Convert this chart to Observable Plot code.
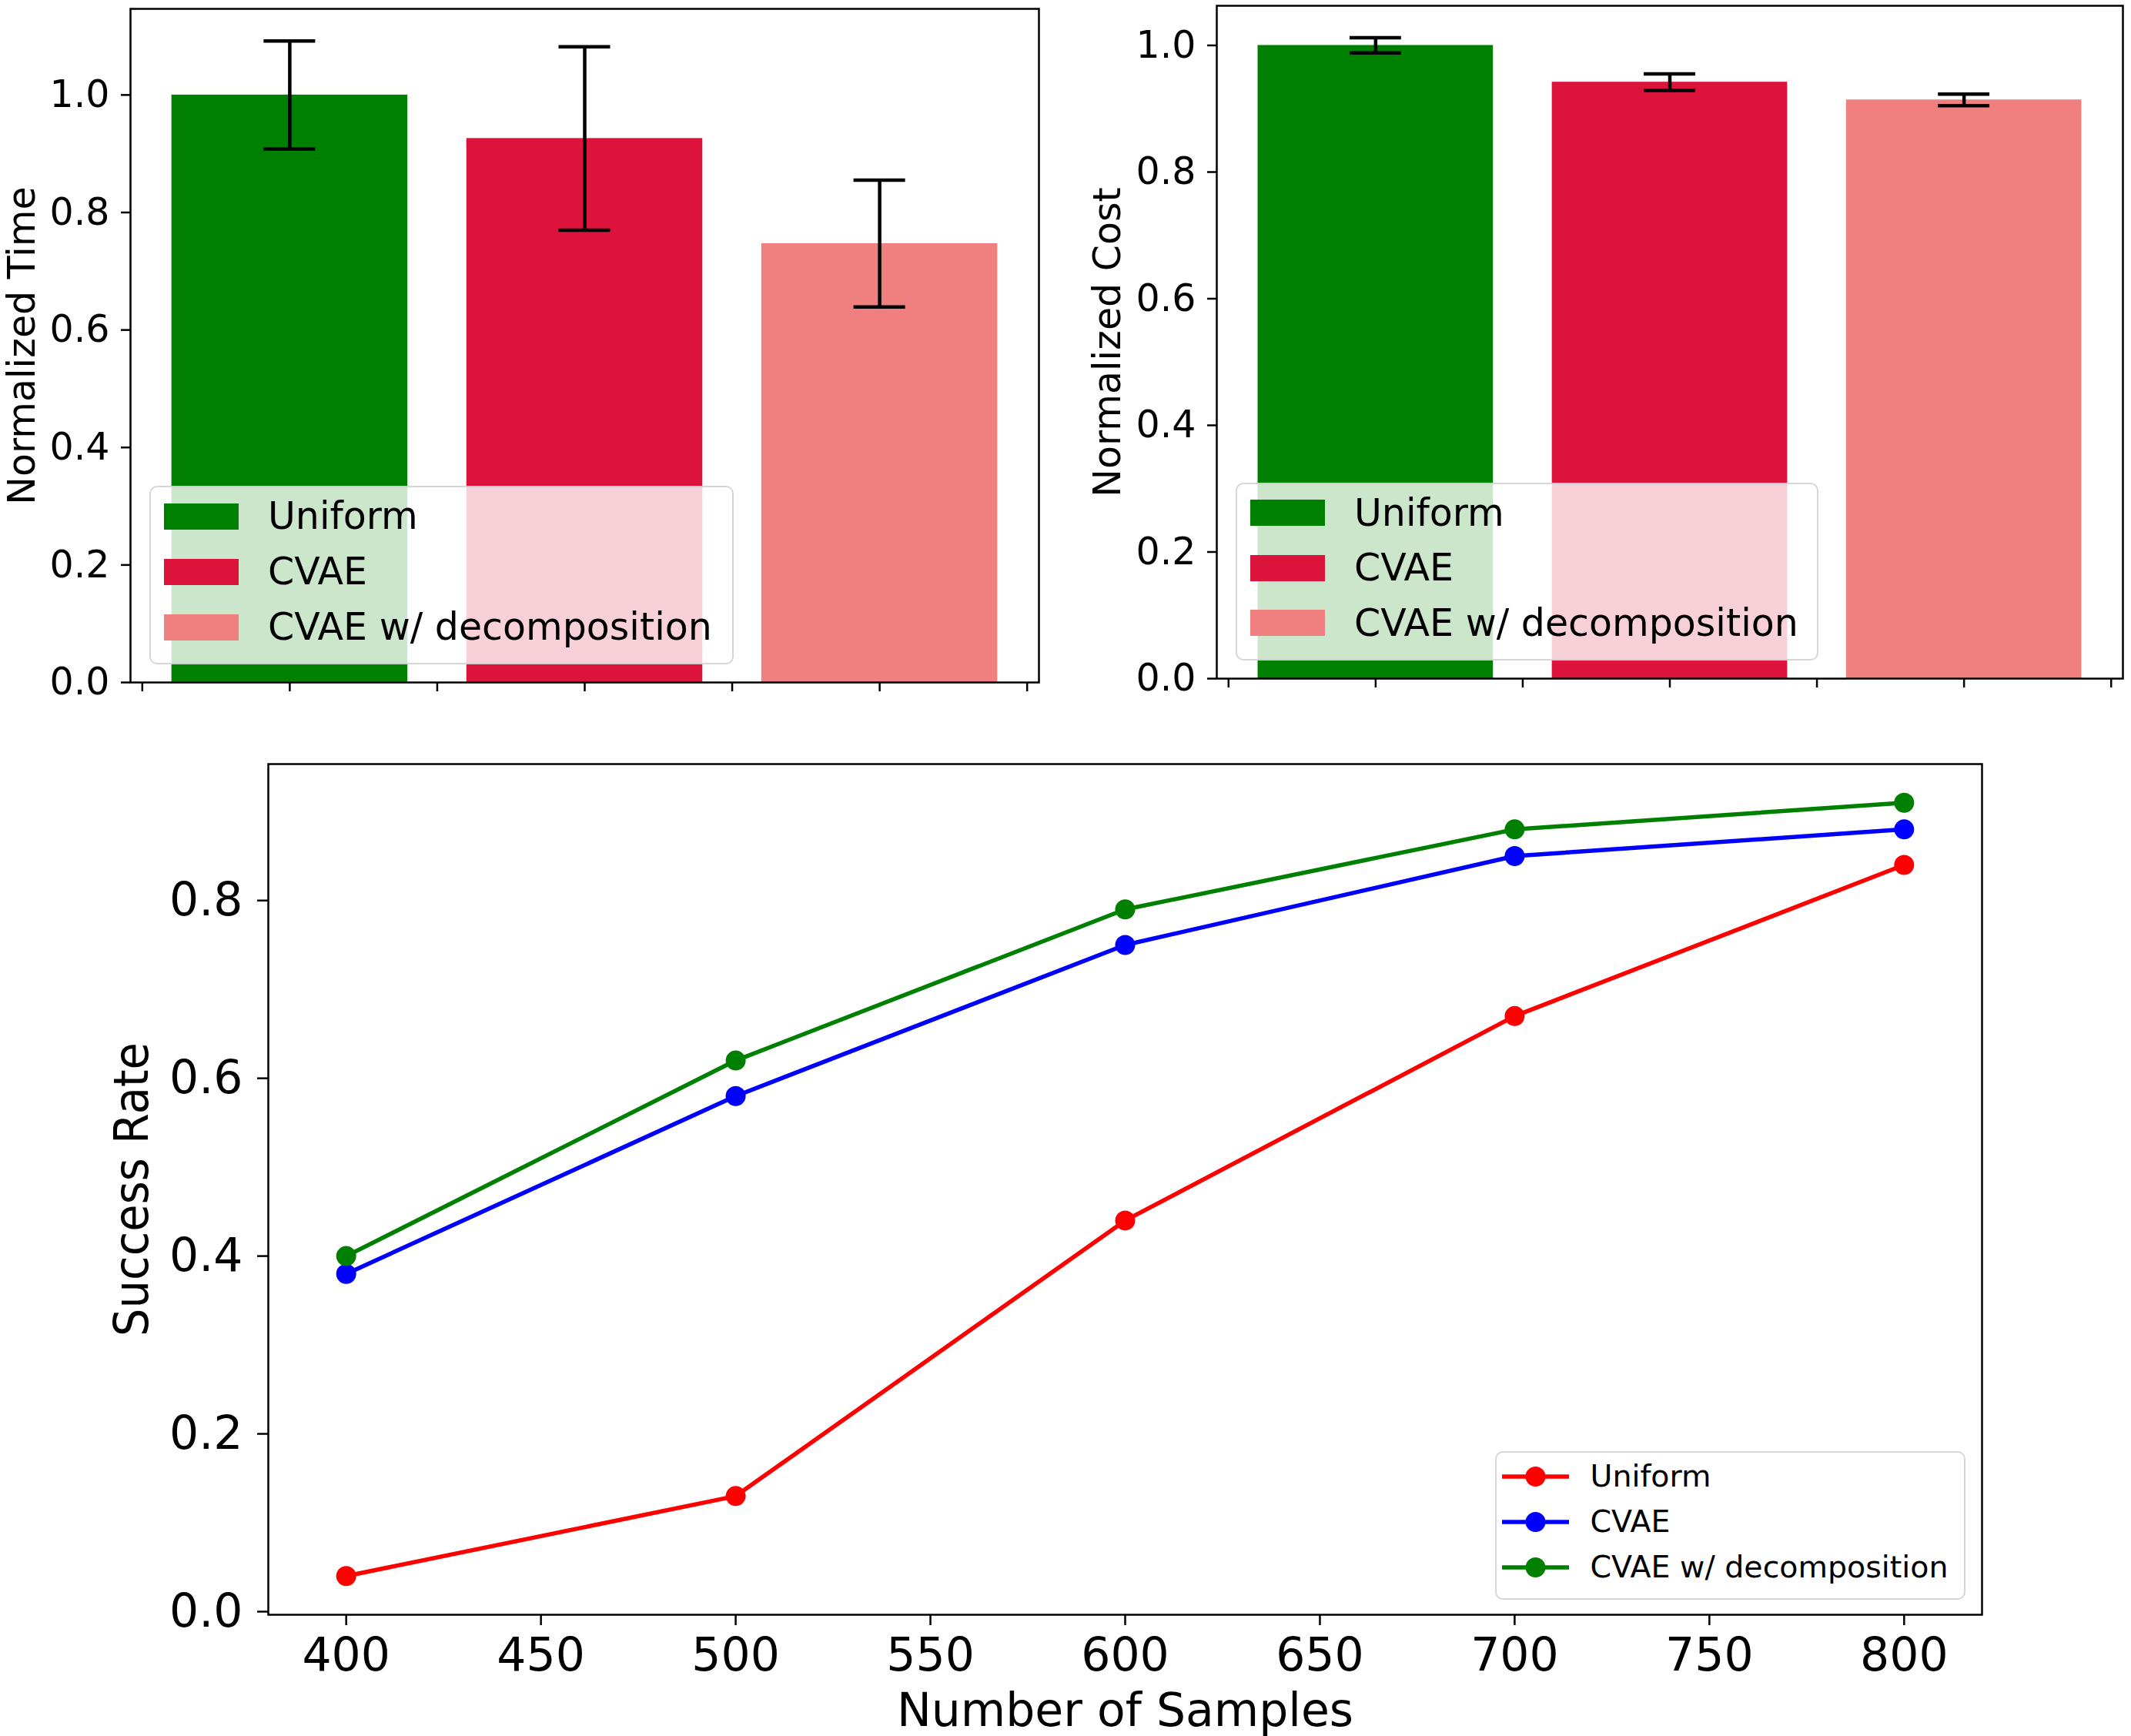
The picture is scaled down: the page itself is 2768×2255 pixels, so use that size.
<!DOCTYPE html>
<html><head><meta charset="utf-8">
<script src="https://cdn.jsdelivr.net/npm/d3@7"></script>
<script src="https://cdn.jsdelivr.net/npm/@observablehq/plot@0.6"></script>
<style>
html,body{margin:0;padding:0;background:#fff;}
#root{position:relative;width:2768px;height:2255px;font-family:"DejaVu Sans";color:#000;overflow:hidden;}
.panel{position:absolute;}
.legend{position:absolute;box-sizing:border-box;background:rgba(255,255,255,0.8);border:2.5px solid rgba(204,204,204,0.8);border-radius:10px;}
.row{display:flex;align-items:center;white-space:nowrap;line-height:1;}
</style></head><body><div id="root"></div>
<script>
// ---- data ----
const methods = ["Uniform", "CVAE", "CVAE w/ decomposition"];
const barColors = ["#008000", "#DC143C", "#F08080"];
const timeMean = [1.0, 0.926, 0.747];
const timeErr = [0.092, 0.156, 0.108];
const costMean = [1.0, 0.942, 0.914];
const costErr = [0.012, 0.013, 0.009];
const barYTicks = [0, 0.2, 0.4, 0.6, 0.8, 1.0];

const samples = [400, 500, 600, 700, 800];
const successUniform = [0.04, 0.13, 0.44, 0.67, 0.84];
const successCVAE = [0.38, 0.58, 0.75, 0.85, 0.88];
const successDecomp = [0.40, 0.62, 0.79, 0.88, 0.91];
const lineColors = ["#FF0000", "#0000FF", "#008000"];
const lineYTicks = [0, 0.2, 0.4, 0.6, 0.8];
const lineXTicks = [400, 450, 500, 550, 600, 650, 700, 750, 800];

const root = document.getElementById("root");
const fmt1 = d3.format(".1f");

function barPanel(means, errs, yLabel, left, margins, labelDx) {
  const data = methods.map((m, i) => ({m, i, mean: means[i], err: errs[i], color: barColors[i]}));
  const lo = -0.4, hi = methods.length - 1 + 0.4, pad = 0.05 * (hi - lo);
  const yMax = d3.max(data, d => d.mean + d.err) * 1.05;
  const cap = 0.0875;
  const svg = Plot.plot({
    width: 1384, height: 960,
    ...margins,
    style: {fontFamily: "DejaVu Sans", fontSize: "49px", background: "transparent", overflow: "visible"},
    x: {domain: [lo - pad, hi + pad]},
    y: {domain: [0, yMax]},
    color: {type: "identity"},
    marks: [
      Plot.rectY(data, {x1: d => d.i - 0.4, x2: d => d.i + 0.4, y: "mean", fill: "color"}),
      Plot.ruleX(data, {x: "i", y1: d => d.mean - d.err, y2: d => d.mean + d.err, stroke: "black", strokeWidth: 4.5}),
      Plot.ruleY(data, {y: d => d.mean + d.err, x1: d => d.i - cap, x2: d => d.i + cap, stroke: "black", strokeWidth: 4.5}),
      Plot.ruleY(data, {y: d => d.mean - d.err, x1: d => d.i - cap, x2: d => d.i + cap, stroke: "black", strokeWidth: 4.5}),
      Plot.axisY({ticks: barYTicks, tickFormat: fmt1, tickSize: 12, tickPadding: 15, fontSize: 49, strokeWidth: 2.5, label: null}),
      Plot.axisX({ticks: d3.range(-0.5, methods.length - 0.49, 0.5), tickFormat: () => "", tickSize: 12, strokeWidth: 2.5, label: null}),
      Plot.frame({stroke: "black", strokeWidth: 2.5}),
      Plot.text([yLabel], {text: d => d, frameAnchor: "left", textAnchor: "middle", lineAnchor: "middle", rotate: -90, dx: labelDx, fontSize: 49})
    ]
  });
  svg.classList.add("panel");
  svg.style.left = left + "px";
  svg.style.top = "0px";
  root.appendChild(svg);
}

barPanel(timeMean, timeErr, "Normalized Time", 0, {marginLeft: 169, marginRight: 35, marginTop: 11, marginBottom: 74}, -140);
barPanel(costMean, costErr, "Normalized Cost", 1384, {marginLeft: 196, marginRight: 11, marginTop: 7, marginBottom: 79}, -141);

// ---- line panel ----
const series = [
  {name: methods[0], vals: successUniform, color: lineColors[0]},
  {name: methods[1], vals: successCVAE, color: lineColors[1]},
  {name: methods[2], vals: successDecomp, color: lineColors[2]}
];
const allVals = series.flatMap(s => s.vals);
const yLo = d3.min(allVals), yHi = d3.max(allVals), yPad = 0.05 * (yHi - yLo);
const xLo = d3.min(samples), xHi = d3.max(samples), xPad = 0.05 * (xHi - xLo);
const lineMarks = [];
for (const s of series) {
  const pts = samples.map((x, i) => ({x, y: s.vals[i]}));
  lineMarks.push(Plot.line(pts, {x: "x", y: "y", stroke: s.color, strokeWidth: 5.5}));
  lineMarks.push(Plot.dot(pts, {x: "x", y: "y", r: 13, fill: s.color, stroke: "none"}));
}
const svg3 = Plot.plot({
  width: 2768, height: 1295,
  marginLeft: 348, marginRight: 194, marginTop: 32, marginBottom: 158,
  style: {fontFamily: "DejaVu Sans", fontSize: "60px", background: "transparent", overflow: "visible"},
  x: {domain: [xLo - xPad, xHi + xPad]},
  y: {domain: [yLo - yPad, yHi + yPad]},
  marks: [
    ...lineMarks,
    Plot.axisY({ticks: lineYTicks, tickFormat: fmt1, tickSize: 14, tickPadding: 19, fontSize: 60, strokeWidth: 2.5, label: null}),
    Plot.axisX({ticks: lineXTicks, tickFormat: d => String(d), tickSize: 14, tickPadding: 16, fontSize: 60, strokeWidth: 2.5, label: null}),
    Plot.frame({stroke: "black", strokeWidth: 2.5}),
    Plot.text(["Success Rate"], {text: d => d, frameAnchor: "left", textAnchor: "middle", lineAnchor: "middle", rotate: -90, dx: -176, fontSize: 62}),
    Plot.text(["Number of Samples"], {text: d => d, frameAnchor: "bottom", textAnchor: "middle", lineAnchor: "middle", dy: 125, fontSize: 60})
  ]
});
svg3.classList.add("panel");
svg3.style.left = "0px";
svg3.style.top = "960px";
root.appendChild(svg3);
svg3.querySelectorAll("text").forEach(t => {
  if (t.textContent === "Success Rate") {
    t.setAttribute("textLength", "382");
    t.setAttribute("lengthAdjust", "spacingAndGlyphs");
  }
});

// ---- legends ----
function barLegend(left, top, w, h, rowH) {
  const div = document.createElement("div");
  div.className = "legend";
  Object.assign(div.style, {left: left + "px", top: top + "px", width: w + "px", height: h + "px", paddingTop: "1.5px", paddingLeft: "17px"});
  methods.forEach((m, i) => {
    const row = document.createElement("div");
    row.className = "row";
    row.style.height = rowH + "px";
    const sw = document.createElement("span");
    Object.assign(sw.style, {display: "inline-block", width: "97px", height: "34px", background: barColors[i], marginRight: "38px"});
    const tx = document.createElement("span");
    tx.textContent = m;
    tx.style.fontSize = "49px";
    row.appendChild(sw); row.appendChild(tx);
    div.appendChild(row);
  });
  root.appendChild(div);
}
barLegend(194, 631, 759, 232, 72);
barLegend(1605, 627, 757, 231, 71.5);

(function lineLegend() {
  const div = document.createElement("div");
  div.className = "legend";
  Object.assign(div.style, {left: "1942px", top: "1885px", width: "611px", height: "193px", paddingTop: "1px", paddingLeft: "6.5px"});
  series.forEach(s => {
    const row = document.createElement("div");
    row.className = "row";
    row.style.height = "59px";
    const ns = "http://www.w3.org/2000/svg";
    const h = document.createElementNS(ns, "svg");
    h.setAttribute("width", "87"); h.setAttribute("height", "30");
    h.style.marginRight = "28px";
    const ln = document.createElementNS(ns, "line");
    ln.setAttribute("x1", "0"); ln.setAttribute("x2", "87"); ln.setAttribute("y1", "15"); ln.setAttribute("y2", "15");
    ln.setAttribute("stroke", s.color); ln.setAttribute("stroke-width", "5.5");
    const c = document.createElementNS(ns, "circle");
    c.setAttribute("cx", "43.5"); c.setAttribute("cy", "15"); c.setAttribute("r", "13"); c.setAttribute("fill", s.color);
    h.appendChild(ln); h.appendChild(c);
    const tx = document.createElement("span");
    tx.textContent = s.name;
    tx.style.fontSize = "39.5px";
    row.appendChild(h); row.appendChild(tx);
    div.appendChild(row);
  });
  root.appendChild(div);
})();
</script></body></html>
